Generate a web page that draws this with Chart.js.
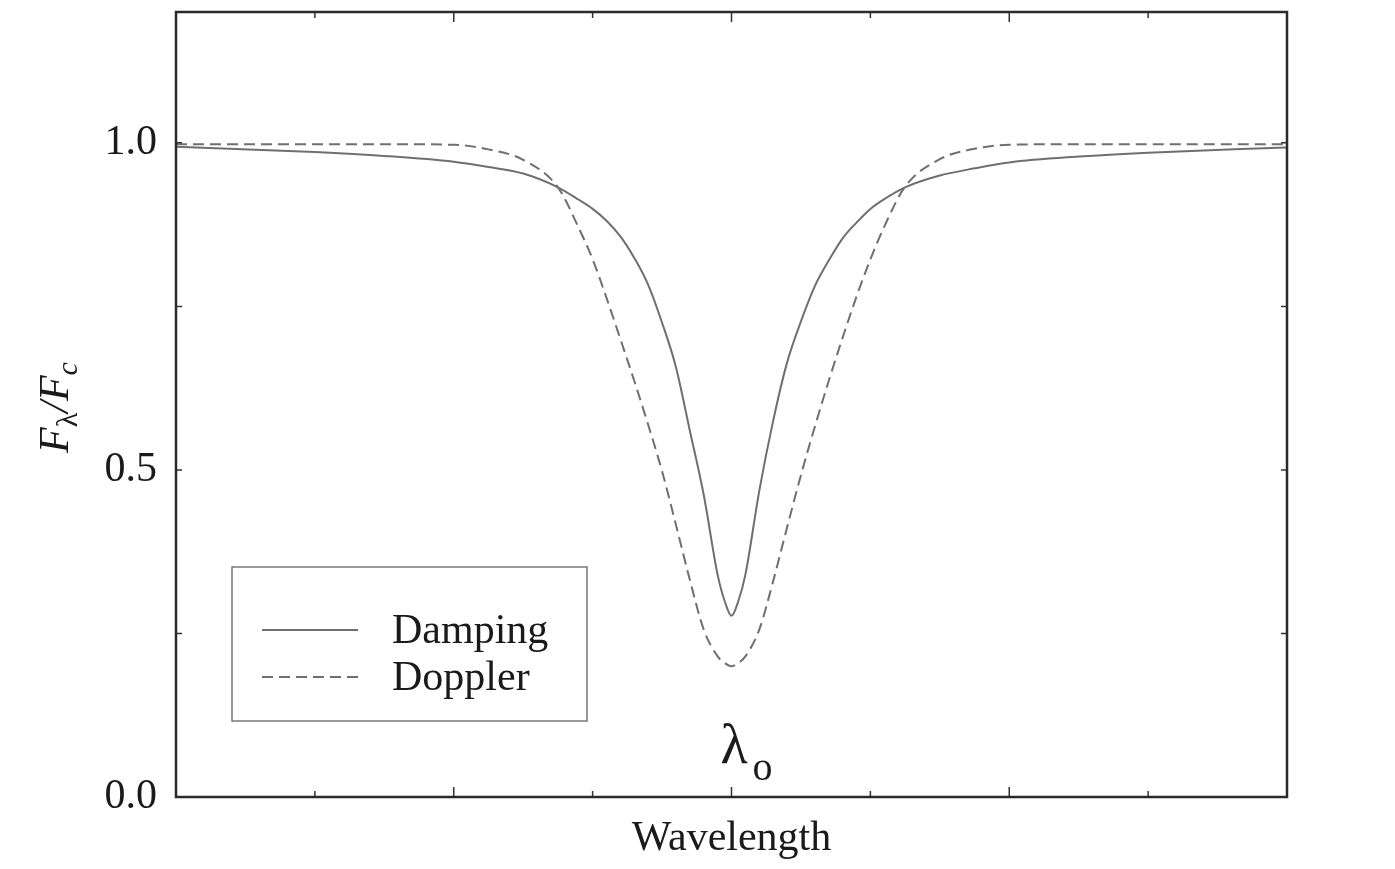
<!DOCTYPE html>
<html>
<head>
<meta charset="utf-8">
<script src="https://cdn.jsdelivr.net/npm/chart.js@4.4.0/dist/chart.umd.min.js"></script>
<style>
html, body { margin: 0; padding: 0; background: #fff; }
</style>
</head>
<body>
<canvas id="myChart" width="1395" height="869"></canvas>
<script>
// wavelength offset from line centre, in tick units
let wavelength = [-4, -3, -2.5, -2, -1.75, -1.5, -1.25, -1.1, -1, -0.9, -0.8, -0.7, -0.6, -0.5, -0.4, -0.3, -0.2, -0.1, -0.05, 0,
                  0.05, 0.1, 0.2, 0.3, 0.4, 0.5, 0.6, 0.7, 0.8, 0.9, 1, 1.1, 1.25, 1.5, 1.75, 2, 2.5, 3, 4]
let damping = [0.994, 0.986, 0.980, 0.971, 0.963, 0.953, 0.932, 0.913, 0.899, 0.881, 0.857, 0.824, 0.783, 0.725, 0.657, 0.560, 0.462, 0.340, 0.300, 0.277,
               0.300, 0.340, 0.468, 0.575, 0.664, 0.727, 0.781, 0.820, 0.854, 0.878, 0.899, 0.914, 0.932, 0.950, 0.961, 0.970, 0.979, 0.985, 0.993]
let doppler = [0.998, 0.998, 0.998, 0.997, 0.990, 0.974, 0.932, 0.870, 0.822, 0.763, 0.700, 0.636, 0.569, 0.498, 0.416, 0.332, 0.256, 0.215, 0.205, 0.200,
               0.205, 0.215, 0.256, 0.330, 0.412, 0.492, 0.566, 0.636, 0.702, 0.765, 0.822, 0.872, 0.933, 0.975, 0.991, 0.997, 0.998, 0.998, 0.998]
let yLabels = [0, 0.5, 1.0]

let serif = 'Liberation Serif'
let ink = '#1a1a1a'
let curveColor = '#6f6f6f'

function pts(arr) {
    return wavelength.map((w, i) => ({ x: w, y: arr[i] }))
}

// box, inward ticks, legend and the extra labels
let decorations = {
    id: 'decorations',
    afterDatasetsDraw(chart) {
        let ctx = chart.ctx
        let a = chart.chartArea
        let xs = chart.scales.x
        let ys = chart.scales.y
        ctx.save()

        // ticks
        ctx.strokeStyle = '#333'
        ctx.lineWidth = 1.5
        for (let v = -3; v <= 3; v++) {
            let px = xs.getPixelForValue(v)
            let len = v % 2 === 0 ? 10 : 6
            ctx.beginPath()
            ctx.moveTo(px, a.bottom); ctx.lineTo(px, a.bottom - len)
            ctx.moveTo(px, a.top); ctx.lineTo(px, a.top + len)
            ctx.stroke()
        }
        for (let v of [0.25, 0.5, 0.75, 1.0]) {
            let py = ys.getPixelForValue(v)
            ctx.beginPath()
            ctx.moveTo(a.left, py); ctx.lineTo(a.left + 6, py)
            ctx.moveTo(a.right, py); ctx.lineTo(a.right - 6, py)
            ctx.stroke()
        }

        // frame
        ctx.strokeStyle = '#2a2a2a'
        ctx.lineWidth = 2.5
        ctx.strokeRect(a.left, a.top, a.right - a.left, a.bottom - a.top)

        // legend
        let lx = a.left + 56, ly = a.top + 555
        ctx.strokeStyle = '#777'
        ctx.lineWidth = 1.5
        ctx.strokeRect(lx, ly, 355, 154)
        ctx.font = '42px "' + serif + '"'
        ctx.fillStyle = ink
        ctx.textBaseline = 'alphabetic'
        chart.data.datasets.forEach((ds, i) => {
            let rowY = ly + 63 + i * 47
            ctx.strokeStyle = ds.borderColor
            ctx.lineWidth = ds.borderWidth
            ctx.setLineDash(ds.borderDash || [])
            ctx.beginPath()
            ctx.moveTo(lx + 30, rowY); ctx.lineTo(lx + 126, rowY)
            ctx.stroke()
            ctx.setLineDash([])
            ctx.fillText(ds.label, lx + 160, rowY + 13)
        })

        // lambda_o under the line centre
        let cx = xs.getPixelForValue(0)
        ctx.font = '56px "' + serif + '"'
        ctx.fillText('λ', cx - 11, a.bottom - 34)
        ctx.font = '40px "' + serif + '"'
        ctx.fillText('o', cx + 21, a.bottom - 17)

        // y axis title F_lambda / F_c
        ctx.translate(68, (a.top + a.bottom) / 2 + 3)
        ctx.rotate(-Math.PI / 2)
        let parts = [
            { t: 'F', f: 'italic 42px', dy: 0 },
            { t: 'λ', f: '30px', dy: 9 },
            { t: '/', f: 'italic 42px', dy: 0 },
            { t: 'F', f: 'italic 42px', dy: 0 },
            { t: 'c', f: 'italic 30px', dy: 9 }
        ]
        let total = 0
        parts.forEach(p => { ctx.font = p.f + ' "' + serif + '"'; p.w = ctx.measureText(p.t).width; total += p.w })
        let x = -total / 2
        parts.forEach(p => {
            ctx.font = p.f + ' "' + serif + '"'
            ctx.fillText(p.t, x, p.dy)
            x += p.w
        })
        ctx.restore()
    }
}

let dataset = {
    datasets: [{
        label: 'Damping',
        data: pts(damping),
        borderColor: curveColor,
        borderWidth: 2,
        pointRadius: 0,
        cubicInterpolationMode: 'monotone'
    }, {
        label: 'Doppler',
        data: pts(doppler),
        borderColor: curveColor,
        borderWidth: 2,
        borderDash: [11, 6],
        pointRadius: 0,
        cubicInterpolationMode: 'monotone'
    }]
}

let config = {
    type: 'line',
    data: dataset,
    options: {
        responsive: false,
        animation: false,
        layout: { padding: { left: 0, right: 108, top: 12, bottom: 0 } },
        plugins: {
            legend: { display: false },
            tooltip: { enabled: false }
        },
        scales: {
            x: {
                type: 'linear',
                min: -4,
                max: 4,
                ticks: { stepSize: 1, display: false },
                grid: { display: false, drawTicks: false },
                border: { display: false },
                title: {
                    display: true,
                    text: 'Wavelength',
                    color: ink,
                    font: { family: serif, size: 42 },
                    padding: { top: 0, bottom: 5 }
                },
                afterFit: s => { s.height = 72; s.paddingLeft = 0; s.paddingRight = 0 }
            },
            y: {
                min: 0,
                max: 1.2,
                ticks: {
                    stepSize: 0.25,
                    padding: 19,
                    color: ink,
                    font: { family: serif, size: 42 },
                    callback: v => yLabels.some(t => Math.abs(t - v) < 1e-9) ? v.toFixed(1) : ''
                },
                grid: { display: false, drawTicks: false },
                border: { display: false },
                afterFit: s => { s.width = 176; s.paddingTop = 0; s.paddingBottom = 0 }
            }
        }
    },
    plugins: [decorations]
}

let myChart = new Chart(document.getElementById('myChart'), config)
</script>
</body>
</html>
